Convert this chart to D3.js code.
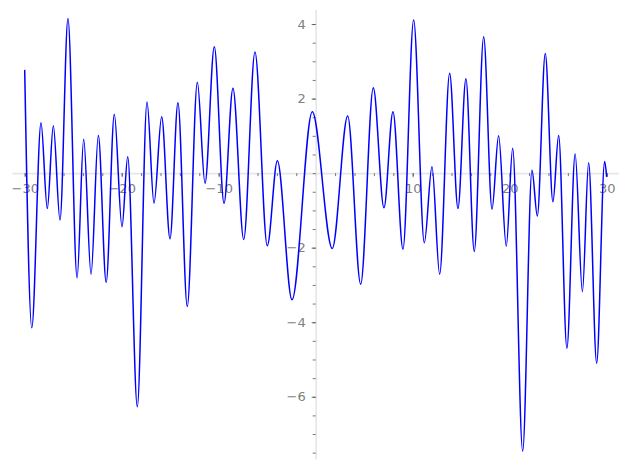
<!DOCTYPE html>
<meta charset="utf-8">
<script src="https://d3js.org/d3.v7.min.js"></script>
<style>
  body { margin: 0; background: #fff; }
  .tick text { font-family: "DejaVu Sans", sans-serif; font-size: 13px; fill: #808080; }
</style>
<div id="chart"></div>
<script>
// curve turning points (x, value)
var curveX = [-30, -29.27, -28.32, -27.67, -27.05, -26.36, -25.54, -24.6, -23.92, -23.16,
  -22.41, -21.6, -20.76, -19.97, -19.38, -18.39, -17.39, -16.67, -15.88, -15.02,
  -14.2, -13.24, -12.2, -11.41, -10.45, -9.45, -8.53, -7.42, -6.26, -4.99,
  -3.95, -2.44, -0.35, 1.71, 3.3, 4.64, 5.94, 7.04, 7.97, 9.0,
  10.1, 11.2, 11.99, 12.78, 13.81, 14.67, 15.49, 16.35, 17.32, 18.18,
  18.86, 19.65, 20.31, 21.34, 22.3, 22.85, 23.67, 24.46, 25.05, 25.9,
  26.75, 27.5, 28.14, 28.97, 29.79, 30];
var curveY = [2.77, -4.15, 1.35, -0.95, 1.27, -1.26, 4.15, -2.81, 0.91, -2.71,
  1.01, -2.93, 1.58, -1.44, 0.44, -6.27, 1.91, -0.81, 1.51, -1.76,
  1.89, -3.58, 2.44, -0.27, 3.39, -0.81, 2.28, -1.78, 3.25, -1.95,
  0.33, -3.40, 1.65, -2.02, 1.53, -2.98, 2.29, -0.93, 1.65, -2.04,
  4.11, -1.87, 0.17, -2.71, 2.68, -0.95, 2.53, -2.1, 3.66, -0.97,
  1.00, -1.96, 0.67, -7.46, 0.08, -1.15, 3.21, -0.77, 1.01, -4.7,
  0.51, -3.18, 0.28, -5.1, 0.31, -0.1];

var xMajor = [-30, -20, -10, 10, 20, 30];
var xMinor = d3.range(-30, 31, 2);
var yMajor = [-6, -4, -2, 2, 4];
var yMinor = d3.range(-7.5, 4.01, 0.5);

var width = 627, height = 470;

var x = d3.scaleLinear().domain([-31.3, 31.2]).range([12.1, 618.3]);
var y = d3.scaleLinear().domain([4.39, -7.67]).range([9.5, 459]);

var svg = d3.select("#chart")
  .append("svg")
    .attr("width", width)
    .attr("height", height);

function styleAxis(g) {
  g.select(".domain").attr("stroke", "#e6e6e6").attr("stroke-width", 1.6);
  g.selectAll(".tick line").attr("stroke", "#555").attr("stroke-width", 0.8);
}

// x axis through y = 0
svg.append("g")
  .attr("transform", "translate(0," + y(0) + ")")
  .call(d3.axisBottom(x).tickValues(xMinor).tickSize(3).tickSizeOuter(0).tickFormat(""))
  .call(styleAxis);
svg.append("g")
  .attr("transform", "translate(0," + y(0) + ")")
  .call(d3.axisBottom(x).tickValues(xMajor).tickSize(4).tickSizeOuter(0).tickPadding(6.5).tickFormat(d3.format("d")))
  .call(styleAxis)
  .call(function(g) { g.select(".domain").remove(); });

// y axis through x = 0
svg.append("g")
  .attr("transform", "translate(" + x(0) + ",0)")
  .call(d3.axisLeft(y).tickValues(yMinor).tickSize(3).tickSizeOuter(0).tickFormat(""))
  .call(styleAxis);
svg.append("g")
  .attr("transform", "translate(" + x(0) + ",0)")
  .call(d3.axisLeft(y).tickValues(yMajor).tickSize(4).tickSizeOuter(0).tickPadding(6).tickFormat(d3.format("d")))
  .call(styleAxis)
  .call(function(g) { g.select(".domain").remove(); });

var pts = curveX.map(function(d, i) { return [d, curveY[i]]; });

var line = d3.line()
  .x(function(d) { return x(d[0]); })
  .y(function(d) { return y(d[1]); })
  .curve(d3.curveMonotoneX);

svg.append("path")
  .datum(pts)
  .attr("fill", "none")
  .attr("stroke", "#0000ff")
  .attr("stroke-width", 1.5)
  .attr("d", line);
</script>
